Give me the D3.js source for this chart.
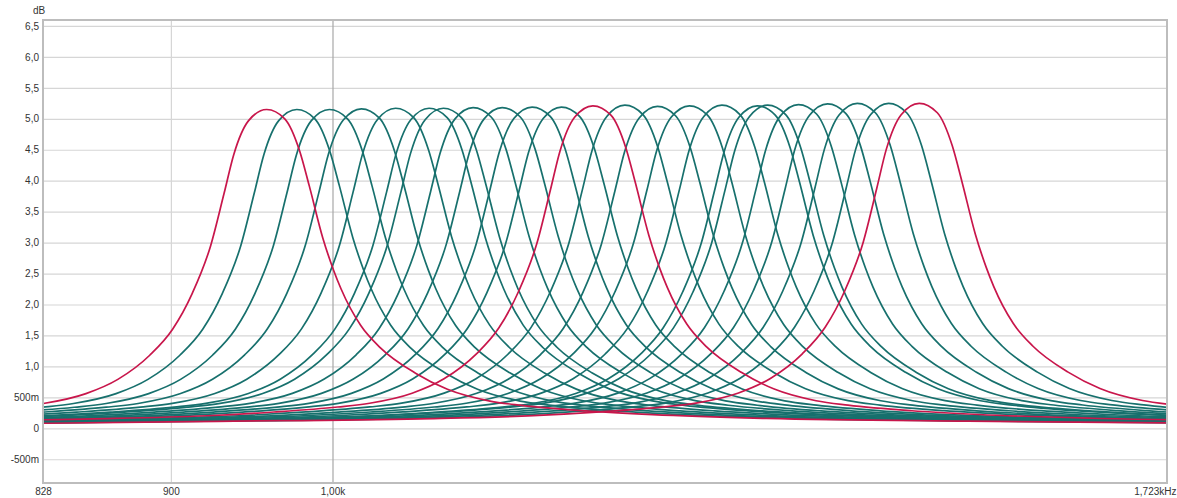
<!DOCTYPE html>
<html>
<head>
<meta charset="utf-8">
<script src="https://cdn.jsdelivr.net/npm/d3@7"></script>
<style>
  body { margin: 0; background: #fff; }
  svg { display: block; }
  text { font-family: "Liberation Sans", Arial, sans-serif; font-size: 10px; fill: #333; }
</style>
</head>
<body>
<div id="chart"></div>
<script>
// axis ticks
const freqTicks = [828, 900, 1000, 1723];
const freqLabels = ["828", "900", "1,00k", "1,723kHz"];
const levelTicks = [-0.5, 0, 0.5, 1, 1.5, 2, 2.5, 3, 3.5, 4, 4.5, 5, 5.5, 6, 6.5];
const levelLabels = ["-500m", "0", "500m", "1,0", "1,5", "2,0", "2,5", "3,0", "3,5", "4,0", "4,5", "5,0", "5,5", "6,0", "6,5"];

// centre frequency (Hz) and peak level (dB) of each curve
const peakFreqs  = [958, 977, 998, 1019, 1042, 1065, 1075, 1096, 1117, 1139, 1161, 1185,
                    1210, 1236, 1262, 1289, 1319, 1328, 1355, 1381, 1408, 1437, 1466];
const peakLevels = [5.15, 5.15, 5.15, 5.16, 5.17, 5.17, 5.17, 5.18, 5.18, 5.19, 5.19, 5.21,
                    5.22, 5.20, 5.21, 5.22, 5.21, 5.22, 5.23, 5.24, 5.25, 5.25, 5.25];
const redCurves = [0, 11, 22];

// shape of one curve (first red one): offset from centre in octaves -> level in dB (peak 5.15)
const shapeOffsets = [-0.90, -0.82, -0.66, -0.47, -0.363, -0.30, -0.24, -0.21, -0.17, -0.14, -0.11,
                      -0.0885, -0.07, -0.0527, -0.04, -0.031, -0.017, 0,
                      0.017, 0.031, 0.04, 0.0527, 0.063, 0.07, 0.0885, 0.107, 0.14, 0.17,
                      0.21, 0.24, 0.30, 0.363, 0.47, 0.66, 0.82, 0.90];
const shapeLevels  = [0.075, 0.08, 0.11, 0.15, 0.20, 0.26, 0.34, 0.40, 0.56, 0.79, 1.18,
                      1.60, 2.18, 2.95, 3.80, 4.42, 4.97, 5.15,
                      5.00, 4.48, 3.92, 3.08, 2.55, 2.25, 1.66, 1.30, 0.89, 0.63,
                      0.44, 0.37, 0.28, 0.22, 0.16, 0.115, 0.09, 0.085];
const shapePeak = 5.15;

const W = 1177, H = 498;
const margin = {top: 20, right: 10, bottom: 15, left: 43};
const width = 1167 - margin.left;
const height = 483 - margin.top;

const svg = d3.select('#chart').append('svg')
    .attr('width', W)
    .attr('height', H);

const g = svg.append('g')
    .attr('transform', `translate(${margin.left},${margin.top})`);

const x = d3.scaleLog().domain([828, 1723]).range([0, width]);
const y = d3.scaleLinear().domain([-0.884, 6.596]).range([height, 0]);

// horizontal grid
g.append('g')
    .call(d3.axisLeft(y).tickValues(levelTicks).tickSize(-width).tickFormat(''))
    .call(a => a.select('.domain').remove())
    .call(a => a.selectAll('line').attr('stroke', '#d6d6d6').attr('stroke-width', 1.2));

// vertical grid (900 light, 1000 darker)
g.append('g')
    .attr('transform', `translate(0,${height})`)
    .call(d3.axisBottom(x).tickValues([900, 1000]).tickSize(-height).tickFormat(''))
    .call(a => a.select('.domain').remove())
    .call(a => a.selectAll('line')
        .attr('stroke', d => d === 1000 ? '#a8a8a8' : '#d6d6d6')
        .attr('stroke-width', 1.2));

// curves
g.append('clipPath').attr('id', 'plot-clip')
  .append('rect').attr('width', width).attr('height', height);

const line = d3.line()
    .x(d => x(d[0]))
    .y(d => y(d[1]))
    .curve(d3.curveMonotoneX);

const curves = peakFreqs.map((f, i) => shapeOffsets.map((o, j) =>
    [f * Math.pow(2, o), shapeLevels[j] * peakLevels[i] / shapePeak]));

const order = d3.range(curves.length).filter(i => !redCurves.includes(i)).concat(redCurves);

g.append('g').attr('clip-path', 'url(#plot-clip)')
  .selectAll('path')
  .data(order)
  .join('path')
    .attr('d', i => line(curves[i]))
    .attr('fill', 'none')
    .attr('stroke', i => redCurves.includes(i) ? '#c8164b' : '#17706d')
    .attr('stroke-width', 1.7);

// frame
g.append('rect')
    .attr('width', width).attr('height', height)
    .attr('fill', 'none')
    .attr('stroke', '#bdbdbd')
    .attr('stroke-width', 2);

// y labels
g.append('g')
    .call(d3.axisLeft(y).tickValues(levelTicks).tickSize(0).tickPadding(4)
        .tickFormat((d, i) => levelLabels[i]))
    .call(a => a.select('.domain').remove())
    .call(a => a.selectAll('text').attr('font-size', 9.5));

// x labels (last one kept inside the window)
g.append('g')
    .attr('transform', `translate(0,${height})`)
    .call(d3.axisBottom(x).tickValues(freqTicks).tickSize(0).tickPadding(5)
        .tickFormat((d, i) => freqLabels[i]))
    .call(a => a.select('.domain').remove())
    .call(a => a.selectAll('text').attr('font-size', 9.5))
    .call(a => a.selectAll('text').filter(d => d === 1723)
        .attr('text-anchor', 'end')
        .attr('dx', W - 1 - margin.left - width));

svg.append('text')
    .attr('x', 33).attr('y', 14)
    .attr('font-size', 9.5)
    .text('dB');
</script>
</body>
</html>
